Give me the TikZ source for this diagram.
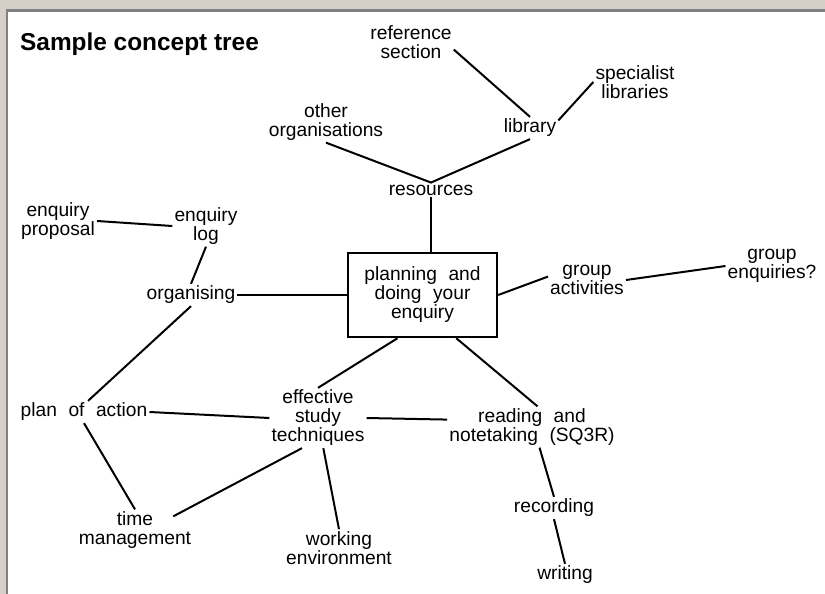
\documentclass[tikz,border=0pt]{standalone}
\usepackage{fontspec}
\setmainfont{Liberation Sans}
\definecolor{winface}{HTML}{D4D0C8}
\definecolor{winedge}{HTML}{808080}
\newcommand{\treefont}{\fontsize{19.2}{19}\selectfont\spaceskip=0.6em plus 0.1em\relax}
\begin{document}
\begin{tikzpicture}[x=1pt, y=-1pt,
    concept/.style={font=\treefont, align=center, inner sep=2pt},
    link/.style={line width=2pt}]
    \useasboundingbox (0,0) rectangle (825,594);
    % Frame
    \fill[white] (0,0) rectangle (825,594);
    \fill[winface] (0,0) rectangle (825,9);
    \fill[winface] (0,0) rectangle (6,594);
    \fill[winedge] (6,9) rectangle (825,12);
    \fill[winedge] (6,9) rectangle (8,594);

    % Title
    \node[anchor=base west, inner sep=0pt, font=\fontsize{24.4}{26}\selectfont\bfseries] (title) at (20,51) {Sample concept tree};

    % Centre
    \node[concept, draw, line width=2.4pt, minimum width=149pt, minimum height=84pt] (plan) at (422.5,295) {planning and\\doing your\\enquiry};

    % Resources branch
    \node[concept] (refsec) at (411,42) {reference\\section};
    \node[concept] (spec) at (635,82) {specialist\\libraries};
    \node[concept] (lib) at (530,128) {library};
    \node[concept] (othorg) at (326,122) {other\\organisations};
    \node[concept] (res) at (431,190) {resources};

    % Group branch
    \node[concept] (grpact) at (587,280) {group\\activities};
    \node[concept] (grpenq) at (772,266) {group\\enquiries?};

    % Organising branch
    \node[concept] (enqprop) at (58,221) {enquiry\\proposal};
    \node[concept] (enqlog) at (206,226) {enquiry\\log};
    \node[concept] (org) at (191,295) {organising};
    \node[concept] (poa) at (84,412) {plan of action};
    \node[concept] (time) at (135,530) {time\\management};

    % Study branch
    \node[concept] (eff) at (318,418) {effective\\study\\techniques};
    \node[concept] (work) at (339,548) {working\\environment};
    \node[concept] (read) at (532,427) {reading and\\notetaking (SQ3R)};
    \node[concept] (rec) at (554,508) {recording};
    \node[concept] (writ) at (565,575) {writing};

    % Links
    \draw[link] (refsec.-10) -- (lib.north);
    \draw[link] (lib.15) -- (spec.west);
    \draw[link] (lib.south) -- (res.north) -- (othorg.south);
    \draw[link] (res.south) -- (res.south |- plan.north);
    \draw[link] (plan.east) -- (grpact.175);
    \draw[link] (grpact.east) -- (grpenq.west);
    \draw[link] (enqprop.east) -- (enqlog.west);
    \draw[link] (enqlog.south) -- (org.north);
    \draw[link] (org.east) -- (plan.west);
    \draw[link] (org.south) -- (poa.70);
    \draw[link] (poa.east) -- (eff.west);
    \draw[link] (poa.south) -- (time.north);
    \draw[link] (plan.-120) -- (eff.north);
    \draw[link] (plan.-52) -- (read.75);
    \draw[link] (eff.east) -- (read.175);
    \draw[link] (eff.-118) -- ([shift={(-20,7)}]time.north east);
    \draw[link] (eff.-80) -- (work.north);
    \draw[link] (read.-70) -- (rec.north);
    \draw[link] (rec.south) -- (writ.north);
\end{tikzpicture}
\end{document}
